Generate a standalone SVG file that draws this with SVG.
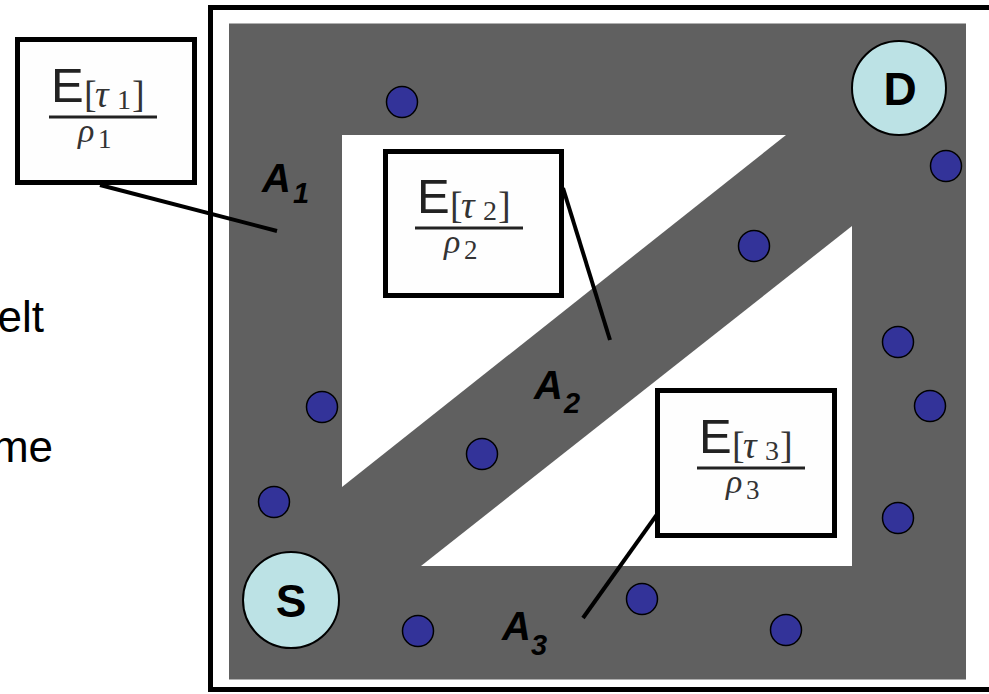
<svg xmlns="http://www.w3.org/2000/svg" width="989" height="694" viewBox="0 0 989 694">
<style>
.dot{fill:#333399;stroke:#000;stroke-width:1.5}
.term{fill:#bce2e5;stroke:#000;stroke-width:2}
.termtxt{font-family:"Liberation Sans",Arial,sans-serif;font-weight:bold;font-size:46px;text-anchor:middle;fill:#000}
.box{fill:#fefefe;stroke:#000;stroke-width:5}
.conn{stroke:#000;stroke-width:4;fill:none}
.albl{font-family:"Liberation Sans",Arial,sans-serif;font-weight:bold;font-style:italic;fill:#000}
.E{font-family:"Liberation Sans",Arial,sans-serif;font-size:49px;fill:#222}
.m{font-family:"Liberation Serif","Times New Roman",serif;fill:#333}
.it{font-style:italic}
.side{font-family:"Liberation Sans",Arial,sans-serif;font-size:44px;fill:#000;text-anchor:end}
</style>
<rect x="0" y="0" width="989" height="694" fill="#fff"/>
<!-- side text -->
<text class="side" x="44" y="332">elt</text>
<text class="side" x="53" y="462">me</text>
<!-- frame -->
<rect x="210.5" y="7.5" width="800" height="682" fill="#fff" stroke="#000" stroke-width="5"/>
<!-- gray area -->
<rect x="229" y="23.5" width="737" height="656" fill="#606060"/>
<polygon points="342,135 786,135 342,487" fill="#fff"/>
<polygon points="852,226 852,566 421,566" fill="#fff"/>
<!-- dots -->
<g id="dots">
<circle class="dot" cx="402" cy="102" r="15.5"/>
<circle class="dot" cx="946" cy="166" r="15.5"/>
<circle class="dot" cx="754" cy="246" r="15.5"/>
<circle class="dot" cx="898" cy="342" r="15.5"/>
<circle class="dot" cx="322" cy="407" r="15.5"/>
<circle class="dot" cx="930" cy="406" r="15.5"/>
<circle class="dot" cx="482" cy="454" r="15.5"/>
<circle class="dot" cx="274" cy="502" r="15.5"/>
<circle class="dot" cx="898" cy="518" r="15.5"/>
<circle class="dot" cx="642" cy="599" r="15.5"/>
<circle class="dot" cx="418" cy="631" r="15.5"/>
<circle class="dot" cx="786" cy="630" r="15.5"/>
</g>
<!-- terminals -->
<g id="S">
<circle class="term" cx="291" cy="600" r="48"/>
<text class="termtxt" x="291" y="617">S</text>
</g>
<g id="D">
<circle class="term" cx="899" cy="88" r="47"/>
<text class="termtxt" x="900" y="105">D</text>
</g>
<!-- area labels -->
<g id="A1"><text class="albl" x="262" y="192" font-size="40">A</text><text class="albl" x="293" y="203" font-size="29">1</text></g>
<g id="A2"><text class="albl" x="534" y="399" font-size="40">A</text><text class="albl" x="564" y="413" font-size="29">2</text></g>
<g id="A3"><text class="albl" x="502" y="640" font-size="40">A</text><text class="albl" x="531" y="655" font-size="29">3</text></g>
<!-- connectors -->
<g id="connectors">
<line class="conn" x1="100" y1="185" x2="277" y2="231"/>
<line class="conn" x1="563" y1="188" x2="610" y2="340"/>
<line class="conn" x1="663" y1="506" x2="583" y2="618"/>
</g>
<!-- box 1 -->
<g id="box1">
<rect class="box" x="17.5" y="39.5" width="177" height="143"/>
<g transform="translate(49,117)">
<text class="E" x="2" y="-15">E</text>
<text class="m" x="35" y="-10" font-size="38">[</text>
<text class="m it" x="46" y="-10" font-size="38">τ</text>
<text class="m" x="68" y="-8" font-size="28">1</text>
<text class="m" x="83" y="-10" font-size="38">]</text>
<rect x="0" y="-1.5" width="108" height="3" fill="#222"/>
<text class="m it" x="29" y="25" font-size="34">ρ</text>
<text class="m" x="49" y="31" font-size="27">1</text>
</g>
</g>
<!-- box 2 -->
<g id="box2">
<rect class="box" x="385.5" y="151.5" width="176" height="144"/>
<g transform="translate(415,228)">
<text class="E" x="2" y="-15">E</text>
<text class="m" x="35" y="-10" font-size="38">[</text>
<text class="m it" x="46" y="-10" font-size="38">τ</text>
<text class="m" x="68" y="-8" font-size="28">2</text>
<text class="m" x="83" y="-10" font-size="38">]</text>
<rect x="0" y="-1.5" width="108" height="3" fill="#222"/>
<text class="m it" x="29" y="25" font-size="34">ρ</text>
<text class="m" x="49" y="31" font-size="27">2</text>
</g>
</g>
<!-- box 3 -->
<g id="box3">
<rect class="box" x="657.5" y="390.5" width="177" height="145"/>
<g transform="translate(697,468)">
<text class="E" x="2" y="-15">E</text>
<text class="m" x="35" y="-10" font-size="38">[</text>
<text class="m it" x="46" y="-10" font-size="38">τ</text>
<text class="m" x="68" y="-8" font-size="28">3</text>
<text class="m" x="83" y="-10" font-size="38">]</text>
<rect x="0" y="-1.5" width="108" height="3" fill="#222"/>
<text class="m it" x="29" y="25" font-size="34">ρ</text>
<text class="m" x="49" y="31" font-size="27">3</text>
</g>
</g>
</svg>
